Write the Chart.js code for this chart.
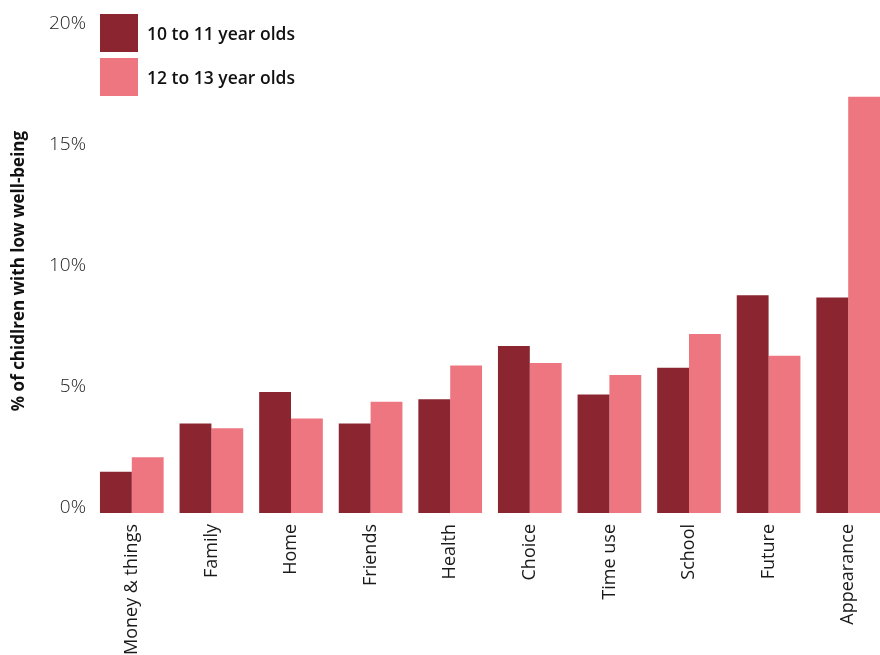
<!DOCTYPE html>
<html>
<head>
<meta charset="utf-8">
<script src="https://cdn.jsdelivr.net/npm/chart.js@4"></script>
<style>
  html, body { margin: 0; padding: 0; background: #fff; overflow: hidden; }
  #wrap { position: relative; width: 888px; height: 655px; }
  #legend { position: absolute; left: 100px; top: 14px; font-family: "Open Sans", sans-serif; }
  .item { display: flex; align-items: center; height: 38px; margin-bottom: 6px; }
  .swatch { width: 38px; height: 38px; margin-right: 9px; }
  .item span { font-size: 17.5px; font-weight: 600; color: #111; }
</style>
</head>
<body>
<div id="wrap">
  <canvas id="chart" width="888" height="655"></canvas>
  <div id="legend"></div>
</div>
<script>
const categories = ["Money & things", "Family", "Home", "Friends", "Health", "Choice", "Time use", "School", "Future", "Appearance"];
const age10to11 = [1.7, 3.7, 5.0, 3.7, 4.7, 6.9, 4.9, 6.0, 9.0, 8.9];
const age12to13 = [2.3, 3.5, 3.9, 4.6, 6.1, 6.2, 5.7, 7.4, 6.5, 17.2];
const seriesLabels = ["10 to 11 year olds", "12 to 13 year olds"];
const colors = ["#8b2630", "#ee7680"];
const yTicks = [0, 5, 10, 15, 20];

const font = "'Open Sans', sans-serif";

const chart = new Chart(document.getElementById("chart"), {
  type: "bar",
  data: {
    labels: categories,
    datasets: [
      { label: seriesLabels[0], data: age10to11, backgroundColor: colors[0] },
      { label: seriesLabels[1], data: age12to13, backgroundColor: colors[1] }
    ]
  },
  options: {
    responsive: false,
    animation: false,
    events: [],
    categoryPercentage: 0.8,
    barPercentage: 1.0,
    layout: { padding: { top: 29, left: 0, right: 0, bottom: 0 } },
    plugins: { legend: { display: false }, tooltip: { enabled: false } },
    scales: {
      x: {
        grid: { display: false, drawTicks: false },
        border: { display: false },
        ticks: {
          autoSkip: false, minRotation: 90, maxRotation: 90, padding: 11,
          color: "#1a1a1a", font: { family: font, size: 18 }
        },
        afterFit: s => { s.height = 142; }
      },
      y: {
        min: 0, max: 20,
        grid: { display: false, drawTicks: false },
        border: { display: false },
        afterBuildTicks: s => { s.ticks = yTicks.map(v => ({ value: v })); },
        ticks: {
          padding: 6, labelOffset: -5,
          color: "#222", font: { family: font, size: 19, weight: 300 },
          callback: v => v + "%"
        },
        title: {
          display: true, text: "% of chidlren with low well-being",
          color: "#111", padding: { top: 9, bottom: 0 },
          font: { family: font, size: 17, weight: 700 }
        },
        afterFit: s => { s.width = 92; }
      }
    }
  }
});

const legend = document.getElementById("legend");
chart.data.datasets.forEach(ds => {
  const item = document.createElement("div");
  item.className = "item";
  item.innerHTML = '<div class="swatch" style="background:' + ds.backgroundColor + '"></div><span>' + ds.label + '</span>';
  legend.appendChild(item);
});
</script>
</body>
</html>
